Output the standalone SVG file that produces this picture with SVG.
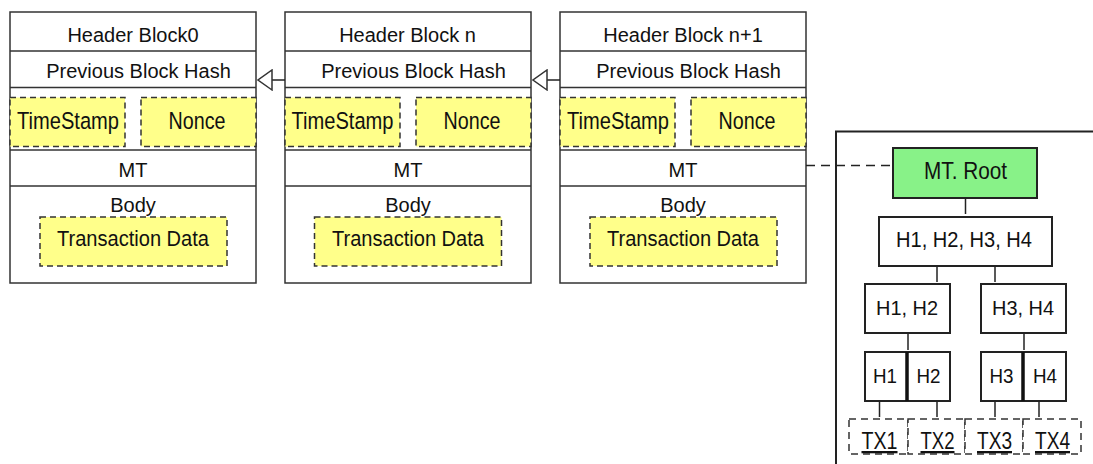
<svg xmlns="http://www.w3.org/2000/svg" width="1093" height="464" viewBox="0 0 1093 464">
<defs>
<style>
text{font-family:"Liberation Sans",Arial,sans-serif;font-size:20px;fill:#111;text-anchor:middle}
.blk{fill:#fff;stroke:#333;stroke-width:1.5}
.sep{stroke:#333;stroke-width:1.5}
.yel{fill:#ffff8a;stroke:#333;stroke-width:1.5;stroke-dasharray:6 4}
.tn{fill:#fff;stroke:#222;stroke-width:2}
.tx{fill:#fff;stroke:#333;stroke-width:1.5;stroke-dasharray:7 5}
.con{fill:none;stroke:#222;stroke-width:1.5}
.tl{fill:none;stroke:#222;stroke-width:1.5}
.big{font-size:24.5px}
.u{text-decoration:underline}
</style>
<marker id="tri" viewBox="0 0 16 22" refX="15" refY="11" markerWidth="16" markerHeight="22" markerUnits="userSpaceOnUse" orient="auto">
<path d="M1,1 L15,11 L1,21 Z" fill="#fff" stroke="#333" stroke-width="1.5"/>
</marker>
</defs>
<rect width="1093" height="464" fill="#fff"/>

<g id="block0">
<rect class="blk" x="10" y="12" width="246" height="271"/>
<line class="sep" x1="10" y1="51" x2="256" y2="51"/>
<line class="sep" x1="10" y1="87.5" x2="256" y2="87.5"/>
<line class="sep" x1="10" y1="150" x2="256" y2="150"/>
<line class="sep" x1="10" y1="186" x2="256" y2="186"/>
<rect class="yel" x="10" y="97.5" width="115" height="49"/>
<rect class="yel" x="141" y="97.5" width="115" height="49"/>
<rect class="yel" x="40" y="217" width="187" height="49"/>
<text x="133" y="41.5">Header Block0</text>
<text x="138.5" y="77.5">Previous Block Hash</text>
<text class="big" x="68" y="128.5" textLength="102" lengthAdjust="spacingAndGlyphs">TimeStamp</text>
<text class="big" x="197" y="128.5" textLength="57" lengthAdjust="spacingAndGlyphs">Nonce</text>
<text x="133" y="176.5">MT</text>
<text x="133" y="212">Body</text>
<text x="133" y="246" style="font-size:22px" textLength="152" lengthAdjust="spacingAndGlyphs">Transaction Data</text>
</g>

<g id="blockn">
<rect class="blk" x="285" y="12" width="246" height="271"/>
<line class="sep" x1="285" y1="51" x2="531" y2="51"/>
<line class="sep" x1="285" y1="87.5" x2="531" y2="87.5"/>
<line class="sep" x1="285" y1="150" x2="531" y2="150"/>
<line class="sep" x1="285" y1="186" x2="531" y2="186"/>
<rect class="yel" x="285" y="97.5" width="115" height="49"/>
<rect class="yel" x="416" y="97.5" width="115" height="49"/>
<rect class="yel" x="314.5" y="217" width="187" height="49"/>
<text x="407.5" y="41.5">Header Block n</text>
<text x="413.5" y="77.5">Previous Block Hash</text>
<text class="big" x="342.5" y="128.5" textLength="102" lengthAdjust="spacingAndGlyphs">TimeStamp</text>
<text class="big" x="472" y="128.5" textLength="57" lengthAdjust="spacingAndGlyphs">Nonce</text>
<text x="408" y="176.5">MT</text>
<text x="408" y="212">Body</text>
<text x="408" y="246" style="font-size:22px" textLength="152" lengthAdjust="spacingAndGlyphs">Transaction Data</text>
</g>

<g id="blockn1">
<rect class="blk" x="560" y="12" width="246" height="271"/>
<line class="sep" x1="560" y1="51" x2="806" y2="51"/>
<line class="sep" x1="560" y1="87.5" x2="806" y2="87.5"/>
<line class="sep" x1="560" y1="150" x2="806" y2="150"/>
<line class="sep" x1="560" y1="186" x2="806" y2="186"/>
<rect class="yel" x="560" y="97.5" width="115" height="49"/>
<rect class="yel" x="691" y="97.5" width="115" height="49"/>
<rect class="yel" x="590" y="217" width="187" height="49"/>
<text x="683" y="41.5">Header Block n+1</text>
<text x="688.5" y="77.5">Previous Block Hash</text>
<text class="big" x="618" y="128.5" textLength="102" lengthAdjust="spacingAndGlyphs">TimeStamp</text>
<text class="big" x="747" y="128.5" textLength="57" lengthAdjust="spacingAndGlyphs">Nonce</text>
<text x="683" y="176.5">MT</text>
<text x="683" y="212">Body</text>
<text x="683" y="246" style="font-size:22px" textLength="152" lengthAdjust="spacingAndGlyphs">Transaction Data</text>
</g>

<g id="mtpanel">
<path d="M1100,131.5 H836 V470" fill="none" stroke="#222" stroke-width="2"/>
</g>

<g id="connectors">
<line class="con" x1="285" y1="80" x2="258" y2="80" marker-end="url(#tri)"/>
<line class="con" x1="560" y1="80" x2="533" y2="80" marker-end="url(#tri)"/>
<line class="con" x1="806" y1="165.5" x2="893" y2="165.5" stroke-dasharray="9 6"/>
<line class="tl" x1="965.5" y1="198" x2="965.5" y2="214"/>
<line class="tl" x1="937" y1="266" x2="937" y2="282"/>
<line class="tl" x1="995" y1="266" x2="995" y2="282"/>
<line class="tl" x1="908" y1="333" x2="908" y2="350"/>
<line class="tl" x1="1024" y1="333" x2="1024" y2="350"/>
<line class="tl" x1="879.5" y1="401" x2="879.5" y2="417"/>
<line class="tl" x1="937" y1="401" x2="937" y2="417"/>
<line class="tl" x1="995" y1="401" x2="995" y2="417"/>
<line class="tl" x1="1039" y1="401" x2="1039" y2="417"/>
</g>

<g id="mtroot">
<rect class="tn" x="893" y="148" width="144" height="50" style="fill:#88f288"/>
<text x="965.5" y="178.5" style="font-size:23px" textLength="83" lengthAdjust="spacingAndGlyphs">MT. Root</text>
</g>
<g id="h1234">
<rect class="tn" x="879" y="217" width="173" height="49"/>
<text x="964" y="246.5" style="font-size:22px" textLength="136" lengthAdjust="spacingAndGlyphs">H1, H2, H3, H4</text>
</g>
<g id="h12">
<rect class="tn" x="865" y="284" width="85" height="49"/>
<text x="907" y="315" style="font-size:21px" textLength="62" lengthAdjust="spacingAndGlyphs">H1, H2</text>
</g>
<g id="h34">
<rect class="tn" x="981" y="284" width="85" height="49"/>
<text x="1023" y="315" style="font-size:21px" textLength="62" lengthAdjust="spacingAndGlyphs">H3, H4</text>
</g>
<g id="h1">
<rect class="tn" x="865" y="352" width="42" height="49"/>
<text x="885" y="382.5" textLength="24" lengthAdjust="spacingAndGlyphs">H1</text>
</g>
<g id="h2">
<rect class="tn" x="907" y="352" width="43" height="49"/>
<text x="928.5" y="382.5" textLength="24" lengthAdjust="spacingAndGlyphs">H2</text>
</g>
<g id="h3">
<rect class="tn" x="981" y="352" width="42" height="49"/>
<text x="1001.5" y="382.5" textLength="24" lengthAdjust="spacingAndGlyphs">H3</text>
</g>
<g id="h4">
<rect class="tn" x="1023" y="352" width="43" height="49"/>
<text x="1045" y="382.5" textLength="24" lengthAdjust="spacingAndGlyphs">H4</text>
</g>
<line x1="907" y1="352" x2="907" y2="401" stroke="#111" stroke-width="3.5"/>
<line x1="1023" y1="352" x2="1023" y2="401" stroke="#111" stroke-width="3.5"/>

<g id="tx1">
<rect class="tx" x="849" y="419" width="59" height="35"/>
<text class="u" x="879.5" y="449" style="font-size:23px" textLength="36" lengthAdjust="spacingAndGlyphs">TX1</text>
</g>
<g id="tx2">
<rect class="tx" x="908" y="419" width="57" height="35"/>
<text class="u" x="937.5" y="449" style="font-size:23px" textLength="34" lengthAdjust="spacingAndGlyphs">TX2</text>
</g>
<g id="tx3">
<rect class="tx" x="965" y="419" width="58" height="35"/>
<text class="u" x="994.5" y="449" style="font-size:23px" textLength="35" lengthAdjust="spacingAndGlyphs">TX3</text>
</g>
<g id="tx4">
<rect class="tx" x="1023" y="419" width="58" height="35"/>
<text class="u" x="1052.5" y="449" style="font-size:23px" textLength="35" lengthAdjust="spacingAndGlyphs">TX4</text>
</g>
</svg>
